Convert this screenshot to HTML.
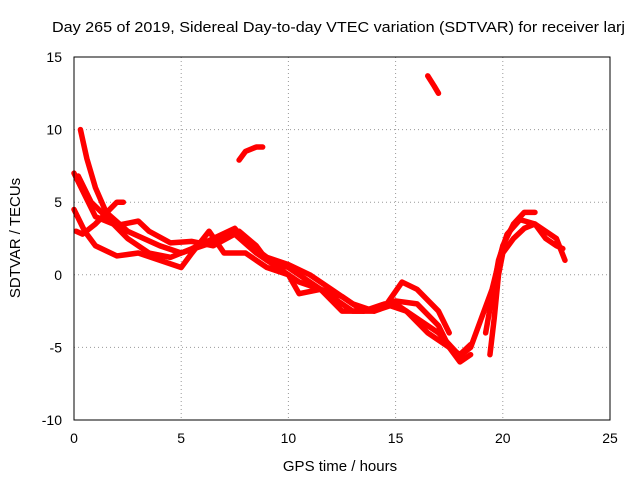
<!DOCTYPE html>
<html><head><meta charset="utf-8"><style>
body{margin:0;background:#fff;font-family:"Liberation Sans",sans-serif}
svg text{font-family:"Liberation Sans",sans-serif;font-size:14px;fill:#000}
</style></head><body>
<svg id="c" width="640" height="480">
<text x="52" y="32" textLength="573" lengthAdjust="spacingAndGlyphs" style="font-size:15px">Day 265 of 2019, Sidereal Day-to-day VTEC variation (SDTVAR) for receiver larj</text>
<text x="340" y="471" text-anchor="middle" style="font-size:15px">GPS time / hours</text>
<text x="20" y="238" text-anchor="middle" style="font-size:15px" transform="rotate(-90 20 238)">SDTVAR / TECUs</text>
<g id="grid"></g><g id="marks"></g>
<rect x="74" y="57" width="536" height="363" fill="none" stroke="#000"/>
</svg>
<script>
const xTicks=[0,5,10,15,20,25];
const yTicks=[-10,-5,0,5,10,15];
const track1=[[0.3,10],[0.6,8],[1,6],[1.5,4.3],[2.5,3],[4,2],[5,1.5],[6,2],[7,2.5],[7.7,3],[8.5,2],[9,1],[10,0.5],[11,-0.5],[12,-1.5],[13,-2.5],[14,-2.5],[15,-2],[16,-3],[17,-4],[18,-5.6],[18.5,-5],[19,-3],[19.5,-1],[20,2],[20.5,3.5],[21,4.3],[21.5,4.3]];
const track2=[[0,7],[0.5,5.5],[1,4],[2,3.4],[3,3.7],[3.5,3],[4.5,2.2],[5.5,2.3],[6.5,2],[7.5,2.8],[8.5,1.5],[9.5,0.5],[10.5,-0.5],[11.5,-1],[12.5,-2.5],[13.5,-2.5],[14.5,-2],[15.5,-2.5],[16.5,-4],[17.5,-5],[18,-6],[18.5,-5.5]];
const track3=[[0,4.5],[0.5,3],[1,2],[2,1.3],[3,1.5],[4,1],[5,0.5],[5.5,1.5],[6.3,3],[7,1.5],[8,1.5],[9,0.5],[10,0],[10.5,-1.3],[11.5,-1],[12.5,-1.5],[13.5,-2.5],[14.5,-2.2],[15.3,-0.5],[16,-1],[17,-2.5],[17.5,-4]];
const track4=[[0.2,6.8],[0.8,5],[1.5,4],[2.5,2.5],[3.5,1.5],[4.5,1.2],[5.5,1.8],[6.5,2.5],[7.5,3.2],[8,2.3],[9,1.2],[10,0.7],[11,0],[12,-1],[13,-2],[14,-2.5],[15,-1.8],[16,-2],[17,-3.5],[17.5,-5],[18,-5.5],[18.5,-4.8]];
const track5=[[0.1,3],[0.4,2.8],[1,3.5],[2,5],[2.3,5]];
const track6=[[19.4,-5.5],[19.6,-3],[19.8,0],[20,1.5],[20.5,2.5],[21,3.2],[21.5,3.5],[22,3],[22.5,2.5],[22.9,1]];
const track7=[[19.2,-4],[19.5,-1.5],[19.8,1],[20.2,2.8],[20.8,3.8],[21.5,3.5],[22,2.5],[22.5,2],[22.8,1.8]];
const track8=[[7.7,7.9],[8,8.5],[8.5,8.8],[8.8,8.8]];
const track9=[[16.5,13.7],[16.8,13],[17,12.5]];
const tracks=[track1,track2,track3,track4,track5,track6,track7,track8,track9];
const X=v=>74+v*536/25, Y=v=>420-(v+10)*363/25;
const ns="http://www.w3.org/2000/svg",svg=document.getElementById('c'),grid=document.getElementById('grid'),marks=document.getElementById('marks');
xTicks.forEach(t=>{
 if(t>0&&t<25){const l=document.createElementNS(ns,'line');l.setAttribute('x1',X(t));l.setAttribute('x2',X(t));l.setAttribute('y1',57);l.setAttribute('y2',420);l.setAttribute('stroke','#999');l.setAttribute('stroke-dasharray','1,3');
 
 grid.appendChild(l);}
 const tx=document.createElementNS(ns,'text');tx.setAttribute('x',X(t));tx.setAttribute('y',443);tx.setAttribute('text-anchor','middle');tx.textContent=t;
 
 svg.appendChild(tx);
});
yTicks.forEach(t=>{
 if(t>-10&&t<15){const l=document.createElementNS(ns,'line');l.setAttribute('x1',74);l.setAttribute('x2',610);l.setAttribute('y1',Y(t));l.setAttribute('y2',Y(t));l.setAttribute('stroke','#999');l.setAttribute('stroke-dasharray','1,3');
 
 grid.appendChild(l);}
 const tx=document.createElementNS(ns,'text');tx.setAttribute('x',62);tx.setAttribute('y',Y(t)+5);tx.setAttribute('text-anchor','end');tx.textContent=t;
 
 svg.appendChild(tx);
});
tracks.forEach((tr,i)=>{
 const p=document.createElementNS(ns,'polyline');
 p.setAttribute('points',tr.map(d=>X(d[0])+','+Y(d[1])).join(' '));
 p.setAttribute('fill','none');p.setAttribute('stroke','#f00');p.setAttribute('stroke-width','5.5');p.setAttribute('stroke-linejoin','round');p.setAttribute('stroke-linecap','round');
 
 
 marks.appendChild(p);
});
</script>
</body></html>
